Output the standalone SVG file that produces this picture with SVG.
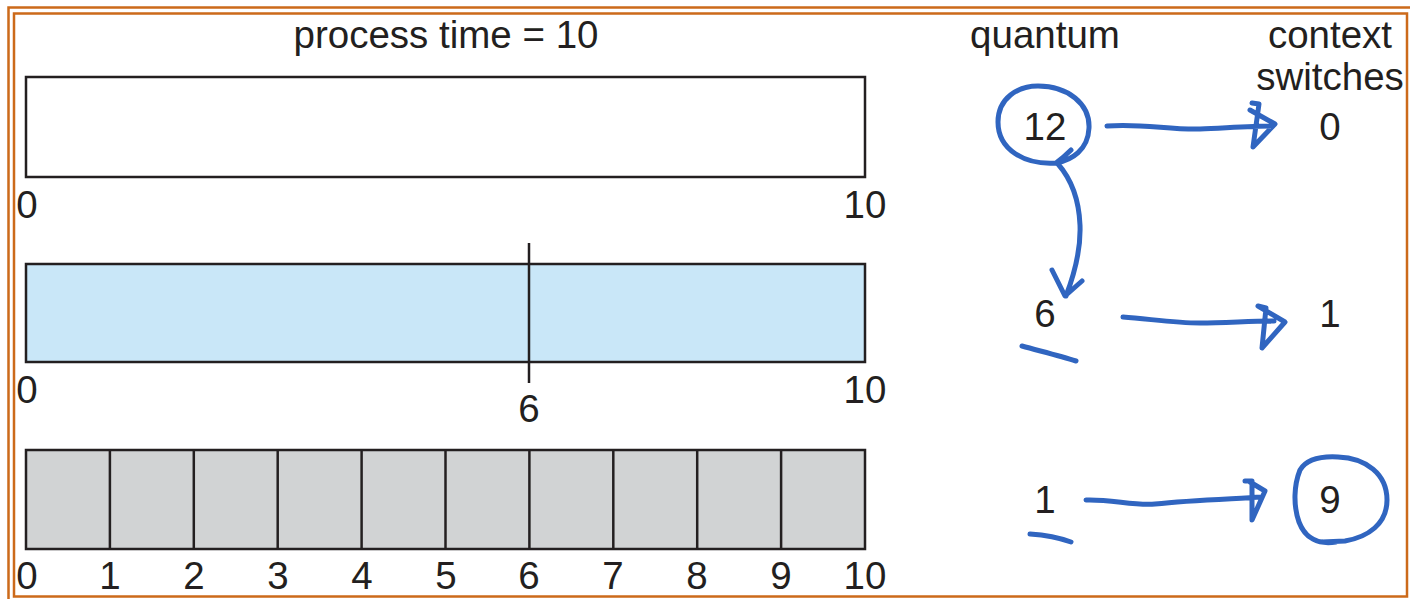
<svg xmlns="http://www.w3.org/2000/svg" width="1410" height="599" viewBox="0 0 1410 599">
<style>
text{font-family:"Liberation Sans",Arial,sans-serif;font-size:38.5px;fill:#231f20}
.box{stroke:#231f20;stroke-width:2.5}
.ink{fill:none;stroke:#3065c0;stroke-width:5;stroke-linecap:round;stroke-linejoin:round}
.frame{fill:none;stroke:#cc6a1a;stroke-width:2.5}
</style>
<rect width="1410" height="599" fill="#fff"/>
<g id="frame">
<polyline class="frame" points="8.5,599 8.5,7.5 1410,7.5"/>
<rect class="frame" x="14" y="13.5" width="1393" height="583"/>
</g>
<text x="446" y="48" text-anchor="middle">process time = 10</text>
<text x="1045" y="48" text-anchor="middle">quantum</text>
<text x="1330" y="48" text-anchor="middle">context</text>
<text x="1330" y="90" text-anchor="middle">switches</text>
<g id="bar1">
<rect class="box" x="26" y="77" width="839" height="100" fill="#fff"/>
<text x="27" y="218" text-anchor="middle">0</text>
<text x="865" y="218" text-anchor="middle">10</text>
</g>
<g id="bar2">
<rect class="box" x="26" y="264" width="839" height="98" fill="#c9e7f8"/>
<line class="box" x1="529" y1="243" x2="529" y2="383"/>
<text x="27" y="403" text-anchor="middle">0</text>
<text x="529" y="422" text-anchor="middle">6</text>
<text x="865" y="403" text-anchor="middle">10</text>
</g>
<g id="bar3">
<rect class="box" x="26" y="450" width="839" height="99" fill="#d1d3d4"/>
<g class="box">
<line x1="109.9" y1="450" x2="109.9" y2="549"/>
<line x1="193.8" y1="450" x2="193.8" y2="549"/>
<line x1="277.7" y1="450" x2="277.7" y2="549"/>
<line x1="361.6" y1="450" x2="361.6" y2="549"/>
<line x1="445.5" y1="450" x2="445.5" y2="549"/>
<line x1="529.4" y1="450" x2="529.4" y2="549"/>
<line x1="613.3" y1="450" x2="613.3" y2="549"/>
<line x1="697.2" y1="450" x2="697.2" y2="549"/>
<line x1="781.1" y1="450" x2="781.1" y2="549"/>
</g>
<g text-anchor="middle">
<text x="27" y="589">0</text>
<text x="110" y="589">1</text>
<text x="194" y="589">2</text>
<text x="278" y="589">3</text>
<text x="362" y="589">4</text>
<text x="446" y="589">5</text>
<text x="529" y="589">6</text>
<text x="613" y="589">7</text>
<text x="697" y="589">8</text>
<text x="781" y="589">9</text>
<text x="865" y="589">10</text>
</g>
</g>
<g id="values" text-anchor="middle">
<text x="1045" y="140">12</text>
<text x="1330" y="140">0</text>
<text x="1045" y="327">6</text>
<text x="1330" y="327">1</text>
<text x="1045" y="513">1</text>
<text x="1330" y="513">9</text>
</g>
<g id="annotations">
<path class="ink" d="M1056,163 C1025,165 998,150 998,122 C998,98 1018,86 1038,86 C1068,86 1090,104 1089,128 C1088,150 1072,160 1056,163 M1071,150 C1066,155 1060,160 1056,163"/>
<path class="ink" d="M1107,126 C1140,123 1170,130 1200,129 C1225,128 1250,126 1272,126 M1252,103 L1259,104 L1253,147 L1275,124 L1250,110"/>
<path class="ink" d="M1058,164 C1072,180 1079,200 1080,225 C1081,250 1074,275 1066,296 M1052,270 L1065,296 L1082,281"/>
<path class="ink" d="M1123,317 C1150,319 1175,323 1200,323 C1225,323 1250,321 1274,321 M1258,306 L1266,308 L1262,348 L1285,322 L1258,306"/>
<path class="ink" d="M1022,346 C1040,351 1060,356 1076,361"/>
<path class="ink" d="M1086,500 C1110,499 1135,506 1155,504 C1190,500 1230,499 1262,497 M1245,481 L1252,481 L1252,520 L1265,491 L1250,482"/>
<path class="ink" d="M1030,534 C1045,535 1060,538 1071,542"/>
<path class="ink" d="M1336,542 C1318,545 1305,538 1299,522 C1293,505 1294,485 1300,470 C1306,460 1320,456 1338,457 C1366,458 1387,474 1387,500 C1387,524 1368,537 1345,541 L1322,542"/>
</g>
</svg>
